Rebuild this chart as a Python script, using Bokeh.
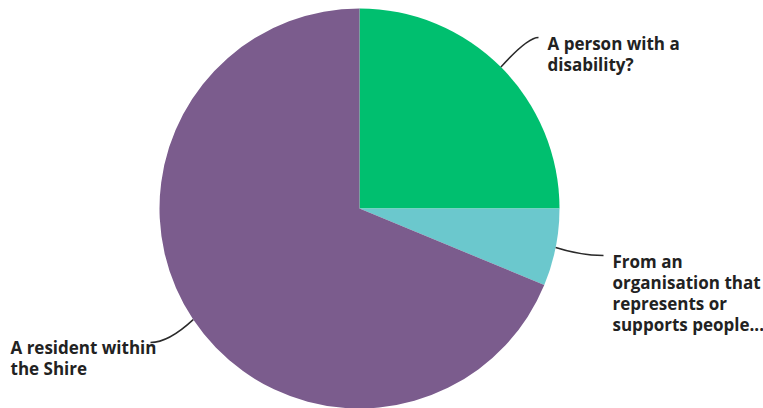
import numpy as np
from bokeh.plotting import figure
from bokeh.models import Range1d, ColumnDataSource
from bokeh.embed import file_html
from bokeh.resources import INLINE
from bokeh.core.properties import value

# ---- data ----
categories = ["A person with a disability?",
              "From an organisation that represents or supports people...",
              "A resident within the Shire"]
responses = [4, 1, 11]
colors = ["#00BF6F", "#6BC8CD", "#7B5C8D"]
label_lines = [["A person with a", "disability?"],
               ["From an", "organisation that", "represents or", "supports people..."],
               ["A resident within", "the Shire"]]

# ---- layout (picture pixel coordinates, y downward -> negated) ----
W, H = 763, 408
cx, cy, r = 359, -208, 200
leader_end = [(538, -37), (603, -255), (150, -342)]
leader_ctrl = [(527, -37), (580, -255), (168, -342)]
text_x = [547, 612, 10]
text_y0 = [-43, -261, -347]
line_gap = 21
text_align = ["left", "left", "left"]

p = figure(width=W, height=H, x_range=Range1d(0, W), y_range=Range1d(-H, 0),
           x_axis_type=None, y_axis_type=None, output_backend="svg",
           toolbar_location=None, min_border=0)
p.grid.visible = False
p.outline_line_color = None
p.background_fill_color = "white"

vals = np.array(responses, dtype=float)
frac = vals / vals.sum()
cum = np.concatenate([[0], np.cumsum(frac)])
a0 = np.pi / 2 - 2 * np.pi * cum[:-1]
a1 = np.pi / 2 - 2 * np.pi * cum[1:]
src = ColumnDataSource(dict(start=a1, end=a0, color=colors, cat=categories, n=responses))
p.wedge(x=cx, y=cy, radius=r, start_angle="start", end_angle="end", direction="anticlock",
        fill_color="color", line_color="white", line_width=0, source=src)

mid = (a0 + a1) / 2
for i in range(len(responses)):
    sx = cx + r * np.cos(mid[i])
    sy = cy + r * np.sin(mid[i])
    ex, ey = leader_end[i]
    qx, qy = leader_ctrl[i]
    p.quadratic(x0=sx, y0=sy, x1=ex, y1=ey, cx=qx, cy=qy, line_color="#2a2a2a", line_width=1.5)
    ys = [text_y0[i] - k * line_gap for k in range(len(label_lines[i]))]
    p.text(x=[text_x[i]] * len(ys), y=ys, text=label_lines[i], text_font=value("Open Sans"),
           text_font_style="bold", text_font_size="17px", text_color="#222222",
           text_baseline="alphabetic", text_align=text_align[i])

open("out.html", "w").write(file_html(p, INLINE))
